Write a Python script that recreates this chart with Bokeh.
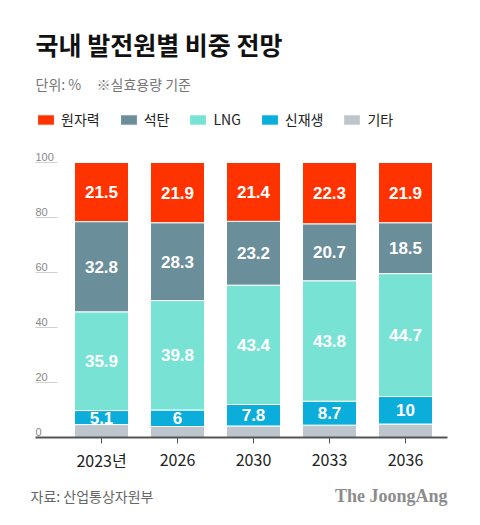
from bokeh.plotting import figure
from bokeh.models import Range1d, Legend, LegendItem, ColumnDataSource
from bokeh.core.properties import value
from bokeh.embed import file_html
from bokeh.resources import INLINE

# ---- data ----
years = ["2023년", "2026", "2030", "2033", "2036"]
nuclear = [21.5, 21.9, 21.4, 22.3, 21.9]
coal = [32.8, 28.3, 23.2, 20.7, 18.5]
lng = [35.9, 39.8, 43.4, 43.8, 44.7]
renew = [5.1, 6, 7.8, 8.7, 10]
others = [4.7, 4.0, 4.2, 4.5, 4.9]
series_names = ["원자력", "석탄", "LNG", "신재생", "기타"]
series_colors = ["#FF3300", "#6B8E9B", "#78E2D4", "#0BADDB", "#BEC6CD"]
y_ticks = [0, 20, 40, 60, 80, 100]

title = "국내 발전원별 비중 전망"
unit_text = "단위: %"
note_text = "※실효용량 기준"
source_text = "자료: 산업통상자원부"
brand_text = "The JoongAng"

# ---- layout helpers (canvas pixel -> data) ----
W, H = 464, 509
def X(px):
    return (px - 101) / 76.0
def Y(py):
    return (437 - py) / 2.75

KR = value("Noto Sans CJK KR")

p = figure(width=W, height=H, x_range=Range1d(X(0), X(W)),
           y_range=Range1d(Y(H), Y(0)), min_border=0,
           toolbar_location=None, output_backend="svg",
           x_axis_location=None, y_axis_location=None)
p.grid.visible = False
p.outline_line_color = None
p.background_fill_color = "white"
p.border_fill_color = "white"

xs = list(range(len(years)))
keys = ["others", "renew", "lng", "coal", "nuclear"]
vals = {"others": others, "renew": renew, "lng": lng, "coal": coal, "nuclear": nuclear}
src = ColumnDataSource(dict(x=xs, **vals))
stack_colors = [series_colors[4], series_colors[3], series_colors[2], series_colors[1], series_colors[0]]
renderers = p.vbar_stack(keys, x="x", width=54 / 76.0, color=stack_colors, source=src,
                         line_color="white", line_width=1)
rmap = dict(zip(keys, renderers))

# value labels
lx, ly, lt = [], [], []
for i in xs:
    base = 0.0
    for k in keys:
        v = vals[k][i]
        if k != "others":
            lx.append(i)
            ly.append(base + v / 2.0)
            lt.append(f"{v:g}")
        base += v
p.text(x=lx, y=ly, text=lt, text_color="white", text_font=value("Liberation Sans"),
       text_font_style="bold", text_font_size="17px", text_align="center",
       text_baseline="middle")

# y ticks
tick_pos = [t for t in y_ticks if t > 0]
p.segment(x0=[X(35)] * len(tick_pos), x1=[X(57)] * len(tick_pos), y0=tick_pos, y1=tick_pos,
          line_color="#cfcfcf", line_width=1)
p.text(x=[X(35)] * len(y_ticks), y=y_ticks, text=[str(t) for t in y_ticks],
       text_color="#888888", text_font=value("Liberation Sans"), text_font_size="11px",
       text_align="left", text_baseline="bottom", y_offset=-2)

# x axis
p.segment(x0=[X(35)], x1=[X(447)], y0=[0], y1=[0], line_color="#555555", line_width=2)
p.segment(x0=xs, x1=xs, y0=[0] * len(xs), y1=[Y(443)] * len(xs), line_color="#555555", line_width=1)
p.text(x=xs, y=[Y(459)] * len(xs), text=years, text_color="#222222", text_font=KR,
       text_font_size="16px", text_align="center", text_baseline="middle")

# titles
p.text(x=[X(35)], y=[Y(43)], text=[title], text_color="#111111", text_font=KR,
       text_font_style="bold", text_font_size="25px", text_align="left", text_baseline="middle")
p.text(x=[X(35), X(96)], y=[Y(83), Y(83)], text=[unit_text, note_text], text_color="#777777",
       text_font=KR, text_font_size="14px", text_align="left", text_baseline="middle")

# footer
p.text(x=[X(30)], y=[Y(495)], text=[source_text], text_color="#666666", text_font=KR,
       text_font_size="14px", text_align="left", text_baseline="middle")
p.text(x=[X(447)], y=[Y(495)], text=[brand_text], text_color="#8c8c8c",
       text_font=value("Liberation Serif"), text_font_style="bold", text_font_size="18px",
       text_align="right", text_baseline="middle")

# legend
legend_keys = ["nuclear", "coal", "lng", "renew", "others"]
items = [LegendItem(label=n, renderers=[rmap[k]]) for n, k in zip(series_names, legend_keys)]
legend = Legend(items=items, orientation="horizontal", location=(35, 380),
                glyph_width=21, glyph_height=13, label_height=13, label_standoff=5,
                spacing=18, padding=0, margin=0, border_line_color=None,
                background_fill_alpha=0, label_text_font="Noto Sans CJK KR",
                label_text_font_size="14px", label_text_color="#222222")
p.add_layout(legend)

open("out.html", "w").write(file_html(p, INLINE))
